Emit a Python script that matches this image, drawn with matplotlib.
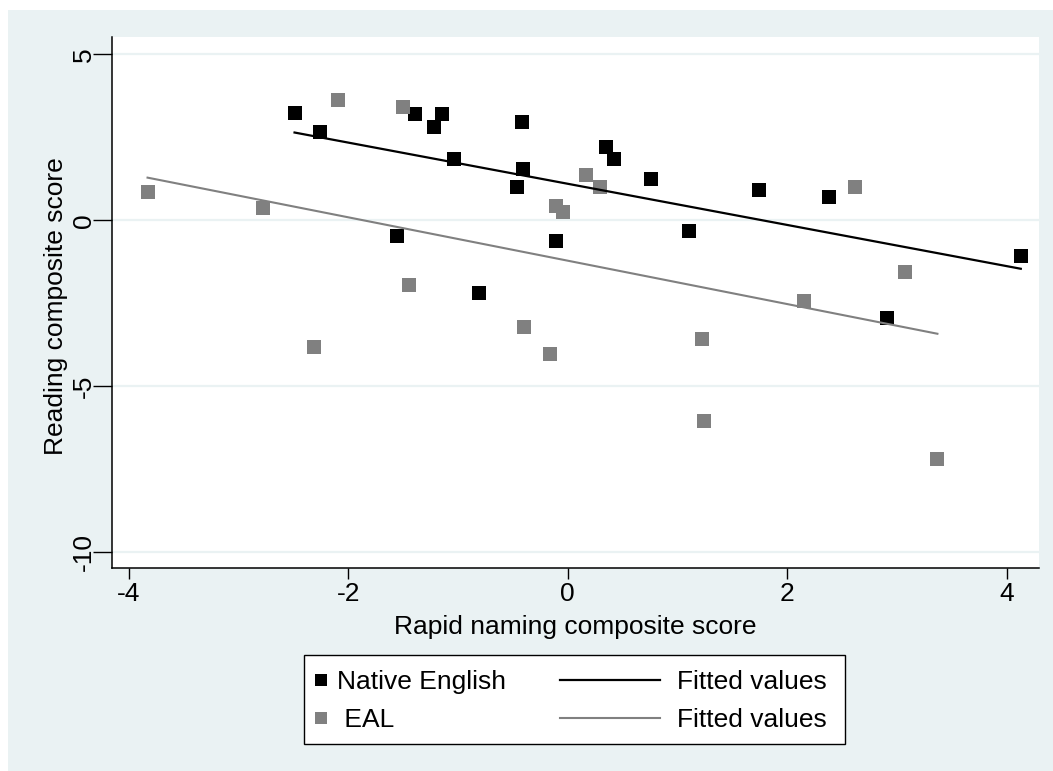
import numpy as np
import matplotlib.pyplot as plt
from matplotlib.patches import Rectangle
from matplotlib.lines import Line2D

plt.rcParams['font.family'] = ['Liberation Sans', 'DejaVu Sans']

# Native English children
native_x = [-2.49, -2.26, -1.39, -1.15, -1.22, -0.42, -1.04, -0.41, -0.46, -1.56,
            -0.11, -0.81, 0.35, 0.42, 0.76, 1.74, 2.38, 1.11, 4.13, 2.91]
native_y = [3.22, 2.65, 3.19, 3.19, 2.82, 2.95, 1.86, 1.54, 0.99, -0.47,
            -0.63, -2.18, 2.22, 1.84, 1.25, 0.90, 0.70, -0.31, -1.08, -2.94]

# EAL children
eal_x = [-2.09, -1.50, -3.83, -2.78, 0.17, 0.29, -0.11, -0.04, -1.45, -0.40,
         -2.31, -0.16, 2.62, 3.07, 2.15, 1.22, 1.24, 3.37]
eal_y = [3.62, 3.40, 0.84, 0.37, 1.36, 1.00, 0.43, 0.26, -1.95, -3.20,
         -3.82, -4.03, 1.00, -1.57, -2.42, -3.58, -6.04, -7.20]

x_ticks = [-4, -2, 0, 2, 4]
y_ticks = [5, 0, -5, -10]
x_title = "Rapid naming composite score"
y_title = "Reading composite score"
group_labels = ["Native English", " EAL"]
fit_label = "Fitted values"

W, H = 1053, 771
bg = '#EAF2F3'
gray = '#808080'
fs = 19


def fit_line(x, y):
    x = np.asarray(x)
    slope, icpt = np.polyfit(x, np.asarray(y), 1)
    xs = np.array([x.min(), x.max()])
    return xs, icpt + slope * xs


fig = plt.figure(figsize=(W / 100, H / 100), dpi=100, facecolor=bg)
# thin white strips on the top and left edges
fig.patches.append(Rectangle((0, 1 - 10 / H), 1, 10 / H, transform=fig.transFigure,
                             facecolor='white', edgecolor='none', zorder=-10))
fig.patches.append(Rectangle((0, 0), 8 / W, 1, transform=fig.transFigure,
                             facecolor='white', edgecolor='none', zorder=-10))

ax = fig.add_axes([112 / W, 1 - 568 / H, 927 / W, 531 / H])
ax.set_facecolor('white')

ax.plot(native_x, native_y, 's', color='black', ms=9.8, mew=0, zorder=3)
ax.plot(eal_x, eal_y, 's', color=gray, ms=9.8, mew=0, zorder=3)
fx, fy = fit_line(native_x, native_y)
ax.plot(fx, fy, color='black', lw=1.6, zorder=4)
fx, fy = fit_line(eal_x, eal_y)
ax.plot(fx, fy, color=gray, lw=1.5, zorder=4)

ax.set_xlim(-4.154, 4.296)
ax.set_ylim(-10.47, 5.52)
ax.set_xticks(x_ticks)
ax.set_yticks(y_ticks)
ax.set_xticklabels([str(t) for t in x_ticks])
ax.set_yticklabels([str(t) for t in y_ticks])
for lab in ax.get_yticklabels():
    lab.set_rotation(90)
    lab.set_ha('center')
    lab.set_va('center')

ax.tick_params(axis='x', length=8, width=1, pad=2, labelsize=fs, direction='out')
ax.tick_params(axis='y', length=14, width=1, pad=6, labelsize=fs, direction='out')

for side in ['top', 'right']:
    ax.spines[side].set_visible(False)
for side in ['left', 'bottom']:
    ax.spines[side].set_linewidth(1.1)
    ax.spines[side].set_color('black')

ax.yaxis.grid(True, color=bg, lw=1.6)
ax.set_axisbelow(True)

ax.set_xlabel(x_title, fontsize=fs)
ax.set_ylabel(y_title, fontsize=fs)
ax.xaxis.set_label_coords(0.5, -0.0885)
ax.yaxis.set_label_coords(-0.0475, 0.4934)

# legend frame
fig.patches.append(Rectangle((304 / W, 1 - 744 / H), 541 / W, 89 / H, transform=fig.transFigure,
                             facecolor='white', edgecolor='black', lw=1, zorder=1))

marker_handles = [Line2D([], [], marker='s', ls='none', color='black', ms=8.8, mew=0),
                  Line2D([], [], marker='s', ls='none', color=gray, ms=8.8, mew=0)]
line_handles = [Line2D([], [], color='black', lw=1.6),
                Line2D([], [], color=gray, lw=1.5)]

fig.legend(marker_handles, group_labels, loc='upper left',
           bbox_to_anchor=(314 / W, 1 - 670 / H), frameon=False, borderpad=0,
           borderaxespad=0, handlelength=0.5, handletextpad=0.39,
           labelspacing=0.53, fontsize=fs)
fig.legend(line_handles, [fit_label, fit_label], loc='upper left',
           bbox_to_anchor=(560 / W, 1 - 670 / H), frameon=False, borderpad=0,
           borderaxespad=0, handlelength=3.79, handletextpad=0.64,
           labelspacing=0.53, fontsize=fs)

fig.savefig('out.png', dpi=100, facecolor=bg)
